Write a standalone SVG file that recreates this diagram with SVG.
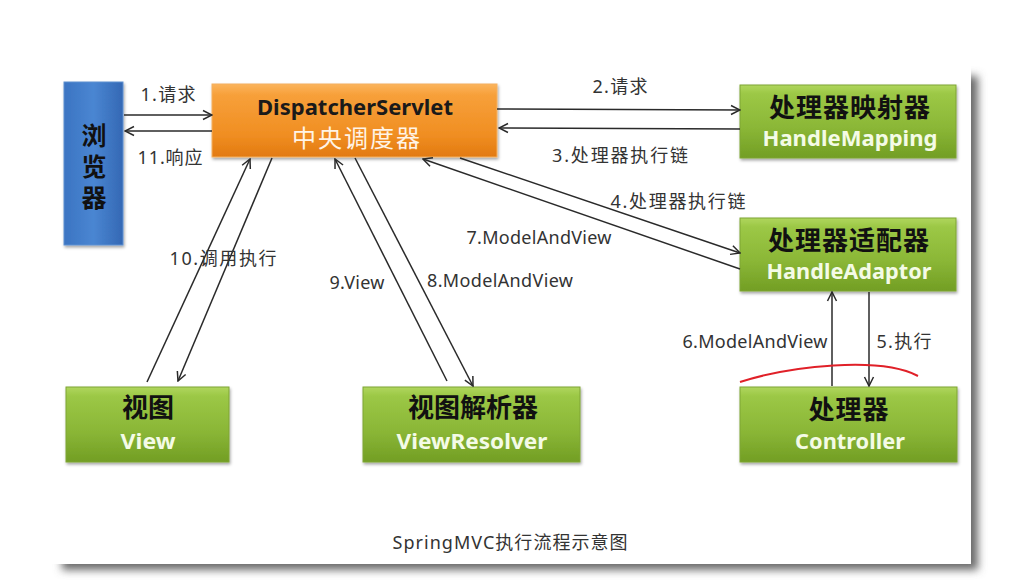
<svg xmlns="http://www.w3.org/2000/svg" width="1022" height="580" viewBox="0 0 1022 580">
<defs>
<linearGradient id="gGreen" x1="0" y1="0" x2="0" y2="1">
<stop offset="0" stop-color="#B0D65E"/><stop offset="0.12" stop-color="#9CC846"/><stop offset="0.6" stop-color="#8AB636"/><stop offset="1" stop-color="#729E24"/>
</linearGradient>
<linearGradient id="gOrange" x1="0" y1="0" x2="0" y2="1">
<stop offset="0" stop-color="#FBB45C"/><stop offset="0.15" stop-color="#F7A03A"/><stop offset="0.7" stop-color="#F08E22"/><stop offset="1" stop-color="#E27A10"/>
</linearGradient>
<linearGradient id="gBlue" x1="0" y1="0" x2="1" y2="0">
<stop offset="0" stop-color="#3B74C2"/><stop offset="0.5" stop-color="#4A86D2"/><stop offset="1" stop-color="#3468B4"/>
</linearGradient>
<filter id="slideShadow" x="-5%" y="-5%" width="110%" height="115%">
<feGaussianBlur stdDeviation="4"/>
</filter>
<filter id="boxShadow" x="-10%" y="-10%" width="125%" height="135%">
<feDropShadow dx="1" dy="2" stdDeviation="1.5" flood-color="#000" flood-opacity="0.35"/>
</filter>
<marker id="arr" viewBox="0 0 12 12" markerWidth="12" markerHeight="12" refX="11" refY="6" orient="auto" markerUnits="userSpaceOnUse">
<path d="M2,1.5 L11,6 L2,10.5" fill="none" stroke="#2a2a2a" stroke-width="1.5"/>
</marker>
</defs>
<style>
.green{fill:url(#gGreen);stroke:#7FA535;stroke-width:1;filter:url(#boxShadow)}
.orange{fill:url(#gOrange);stroke:#F4B060;stroke-width:1;filter:url(#boxShadow)}
.blue{fill:url(#gBlue);stroke:#5C90D0;stroke-width:1;filter:url(#boxShadow)}
.cn{font-family:"Noto Sans CJK SC","Noto Sans",sans-serif;font-weight:bold;fill:#111;text-anchor:middle}
.en{font-family:"Noto Sans","Noto Sans CJK SC",sans-serif;font-weight:bold;fill:#F4FBE6;text-anchor:middle}
.lbl{font-family:"Noto Sans","Noto Sans CJK SC",sans-serif;font-size:18px;fill:#333;text-anchor:middle}
.conn line{stroke:#2a2a2a;stroke-width:1.5;marker-end:url(#arr)}
</style>
<rect x="0" y="0" width="1022" height="580" fill="#FFFFFF"/>
<rect x="62" y="76" width="916" height="494" fill="#6a6a6a" filter="url(#slideShadow)"/>
<rect x="50" y="64" width="921" height="500" fill="#FFFFFF"/>

<g id="browser">
<rect class="blue" x="64" y="82" width="59" height="163"/>
<text class="cn" x="94" y="169" font-size="25" writing-mode="vertical-rl" letter-spacing="6">浏览器</text>
</g>
<g id="dispatcher">
<rect class="orange" x="212" y="84" width="285" height="73"/>
<text x="355" y="115" font-family="Noto Sans,sans-serif" font-weight="bold" font-size="21" fill="#1a1a1a" text-anchor="middle" textLength="196" lengthAdjust="spacingAndGlyphs">DispatcherServlet</text>
<text x="356" y="147" font-family="Noto Sans CJK SC,sans-serif" font-size="24" fill="#FFF4E6" text-anchor="middle" textLength="128" lengthAdjust="spacing">中央调度器</text>
</g>
<g id="handleMapping">
<rect class="green" x="740" y="85" width="216" height="73"/>
<text class="cn" x="850" y="117" font-size="26" letter-spacing="1">处理器映射器</text>
<text class="en" x="850" y="146" font-size="21" textLength="175" lengthAdjust="spacingAndGlyphs">HandleMapping</text>
</g>
<g id="handleAdaptor">
<rect class="green" x="740" y="218" width="216" height="73"/>
<text class="cn" x="849" y="250" font-size="26" letter-spacing="1">处理器适配器</text>
<text class="en" x="849" y="279" font-size="21" textLength="165" lengthAdjust="spacingAndGlyphs">HandleAdaptor</text>
</g>
<g id="controller">
<rect class="green" x="740" y="387" width="217" height="75"/>
<text class="cn" x="849" y="419" font-size="26" letter-spacing="1">处理器</text>
<text class="en" x="850" y="449" font-size="21" textLength="110" lengthAdjust="spacingAndGlyphs">Controller</text>
</g>
<g id="view">
<rect class="green" x="66" y="387" width="163" height="75"/>
<text class="cn" x="148" y="417" font-size="26">视图</text>
<text class="en" x="148" y="449" font-size="21" textLength="55" lengthAdjust="spacingAndGlyphs">View</text>
</g>
<g id="viewResolver">
<rect class="green" x="363" y="387" width="217" height="75"/>
<text class="cn" x="473" y="417" font-size="26">视图解析器</text>
<text class="en" x="472" y="449" font-size="21" textLength="151" lengthAdjust="spacingAndGlyphs">ViewResolver</text>
</g>

<g id="connectors" class="conn">
<line x1="124" y1="115" x2="212" y2="115"/>
<line x1="212" y1="131" x2="125" y2="131"/>
<line x1="497" y1="109" x2="740" y2="110"/>
<line x1="740" y1="129" x2="499" y2="128"/>
<line x1="460" y1="158" x2="740" y2="253"/>
<line x1="740" y1="269" x2="423" y2="159"/>
<line x1="869" y1="292" x2="869" y2="386"/>
<line x1="832" y1="386" x2="832" y2="292"/>
<line x1="147" y1="382" x2="250" y2="159"/>
<line x1="272" y1="158" x2="178" y2="381"/>
<line x1="447" y1="381" x2="335" y2="159"/>
<line x1="355" y1="158" x2="473" y2="386"/>
</g>

<g id="labels">
<text class="lbl" x="168" y="101" textLength="55" lengthAdjust="spacing">1.请求</text>
<text class="lbl" x="170" y="164" textLength="65" lengthAdjust="spacing">11.响应</text>
<text class="lbl" x="620" y="93" textLength="55" lengthAdjust="spacing">2.请求</text>
<text class="lbl" x="620" y="162" textLength="136" lengthAdjust="spacing">3.处理器执行链</text>
<text class="lbl" x="678" y="208" textLength="135" lengthAdjust="spacing">4.处理器执行链</text>
<text class="lbl" x="539" y="244" textLength="145" lengthAdjust="spacing">7.ModelAndView</text>
<text class="lbl" x="500" y="287" textLength="146" lengthAdjust="spacing">8.ModelAndView</text>
<text class="lbl" x="357" y="289" textLength="55" lengthAdjust="spacing">9.View</text>
<text class="lbl" x="223" y="265" textLength="107" lengthAdjust="spacing">10.调用执行</text>
<text class="lbl" x="755" y="348" textLength="145" lengthAdjust="spacing">6.ModelAndView</text>
<text class="lbl" x="904" y="348" textLength="55" lengthAdjust="spacing">5.执行</text>
</g>

<path d="M740,382 C790,366 880,356 918,376" fill="none" stroke="#E02028" stroke-width="2"/>
<text x="510" y="549" font-family="Noto Sans,Noto Sans CJK SC,sans-serif" font-size="18" fill="#333" text-anchor="middle" textLength="235" lengthAdjust="spacing">SpringMVC执行流程示意图</text>
</svg>
